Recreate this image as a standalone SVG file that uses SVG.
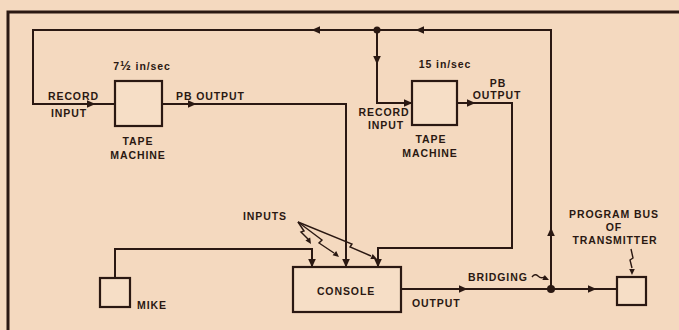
<svg xmlns="http://www.w3.org/2000/svg" width="679" height="330" viewBox="0 0 679 330">
<style>
.ln{fill:none;stroke:#2a1812;stroke-width:2;stroke-linejoin:miter}
.thin{fill:none;stroke:#2a1812;stroke-width:1.4}
.box{fill:#f6dec6;stroke:#2a1812;stroke-width:2.2}
.frame{fill:none;stroke:#2a1812;stroke-width:3}
text{font-family:"Liberation Sans",Arial,sans-serif;font-size:10.5px;font-weight:bold;letter-spacing:0.9px;fill:#2a1812}
.c{text-anchor:middle}
.ah{fill:#2a1812}
</style>
<defs>
<path id="a" d="M4.5,0 L-4,-3.8 L-4,3.8 Z"/>
<path id="s" d="M0,0 L-6,-2.8 L-6,2.8 Z"/>
</defs>
<rect x="0" y="0" width="679" height="330" fill="#f4d9bf"/>
<path class="frame" d="M8,330 V12 H679"/>

<g id="connectors">
<path class="ln" d="M551,289 V30 H33 V104 H115"/>
<path class="ln" d="M377,30 V103 H412"/>
<path class="ln" d="M162,104 H346 V267"/>
<path class="ln" d="M457,103 H512 V248 H378 V267"/>
<path class="ln" d="M115,278 V249 H312 V267"/>
<path class="ln" d="M401,289 H617"/>
<circle class="ah" cx="377" cy="30" r="3.5"/>
<circle class="ah" cx="551" cy="289" r="4"/>
<g class="ah">
<use href="#a" transform="translate(551,232) rotate(-90)"/>
<use href="#a" transform="translate(420,30) rotate(180)"/>
<use href="#a" transform="translate(316,30) rotate(180)"/>
<use href="#a" transform="translate(91,104)"/>
<use href="#a" transform="translate(377,60) rotate(90)"/>
<use href="#a" transform="translate(408,103)"/>
<use href="#a" transform="translate(192,104)"/>
<use href="#a" transform="translate(471,103)"/>
<use href="#a" transform="translate(346,263) rotate(90)"/>
<use href="#a" transform="translate(378,263) rotate(90)"/>
<use href="#a" transform="translate(312,263) rotate(90)"/>
<use href="#a" transform="translate(463,289)"/>
<use href="#a" transform="translate(592,289)"/>
</g>
<path class="thin" d="M298,222 L304,231 L301,232 L309,240"/>
<path class="thin" d="M298,222 L322,240 L319,243 L334,253"/>
<path class="thin" d="M298,222 L352,244 L350,247 L371,256"/>
<path class="thin" d="M532,277 q3,-4 6,-1 t6,1 L546,278"/>
<path class="thin" d="M631,249 L633,258 L630,260 L632,268"/>
<g class="ah">
<use href="#s" transform="translate(311,244) rotate(58)"/>
<use href="#s" transform="translate(339,257) rotate(40)"/>
<use href="#s" transform="translate(377,259) rotate(24)"/>
<use href="#s" transform="translate(549,280) rotate(25)"/>
<use href="#s" transform="translate(632,275) rotate(90)"/>
</g>
<text x="48" y="100">RECORD</text>
<text x="51" y="117">INPUT</text>
<text x="176" y="100">PB OUTPUT</text>
<text class="c" x="384" y="116">RECORD</text>
<text class="c" x="386" y="129">INPUT</text>
<text class="c" x="498" y="87">PB</text>
<text class="c" x="497" y="99">OUTPUT</text>
<text x="243" y="220">INPUTS</text>
<text x="412" y="307">OUTPUT</text>
<text x="468" y="281">BRIDGING</text>
</g>

<g id="tape1">
<rect class="box" x="115" y="81" width="47" height="45"/>
<text class="c" x="142" y="70">7<tspan style="font-size:13px">½</tspan> in/sec</text>
<text class="c" x="138" y="145">TAPE</text>
<text class="c" x="138" y="159">MACHINE</text>
</g>
<g id="tape2">
<rect class="box" x="412" y="81" width="45" height="44"/>
<text class="c" x="445" y="68">15 in/sec</text>
<text class="c" x="431" y="143">TAPE</text>
<text class="c" x="430" y="157">MACHINE</text>
</g>
<g id="mike">
<rect class="box" x="100" y="278" width="30" height="29"/>
<text x="137" y="309">MIKE</text>
</g>
<g id="console">
<rect class="box" x="293" y="267" width="108" height="45"/>
<text class="c" x="346" y="295">CONSOLE</text>
</g>
<g id="transmitter">
<rect class="box" x="617" y="277" width="29" height="28"/>
<text class="c" x="614" y="218">PROGRAM BUS</text>
<text class="c" x="614" y="231">OF</text>
<text class="c" x="615" y="244">TRANSMITTER</text>
</g>
</svg>
